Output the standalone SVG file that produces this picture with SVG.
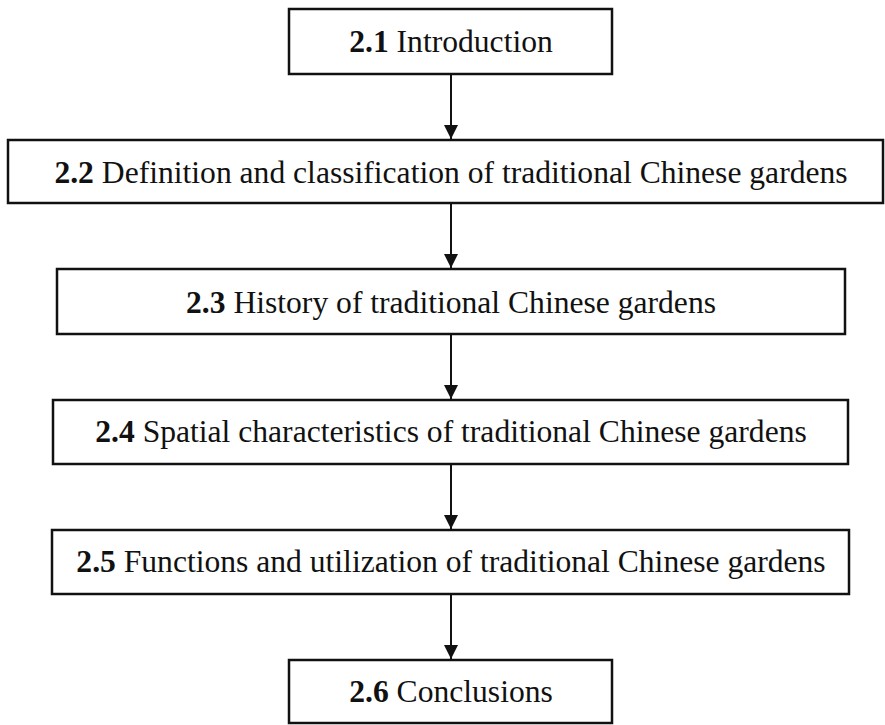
<svg xmlns="http://www.w3.org/2000/svg" width="885" height="725" viewBox="0 0 885 725">
<style>
.box{fill:#fff;stroke:#111;stroke-width:2.5}
.t{font-family:"Liberation Serif","Times New Roman",serif;font-size:31.6px;fill:#111;text-anchor:middle}
.b{font-weight:bold}
.c{stroke:#111;stroke-width:2;fill:none}
</style>
<defs>
<marker id="ah" viewBox="0 0 14 14" refX="14" refY="7" markerWidth="14" markerHeight="14" markerUnits="userSpaceOnUse" orient="auto">
<path d="M0,0 L14,7 L0,14 Z" fill="#111"/>
</marker>
</defs>
<rect width="885" height="725" fill="#fff"/>
<g id="connectors">
<line class="c" x1="451" y1="74" x2="451" y2="139" marker-end="url(#ah)"/>
<line class="c" x1="451" y1="203" x2="451" y2="268" marker-end="url(#ah)"/>
<line class="c" x1="451" y1="334" x2="451" y2="399" marker-end="url(#ah)"/>
<line class="c" x1="451" y1="464" x2="451" y2="529" marker-end="url(#ah)"/>
<line class="c" x1="451" y1="594" x2="451" y2="659" marker-end="url(#ah)"/>
</g>
<g id="n1">
<rect class="box" x="289" y="9" width="323" height="65"/>
<text class="t" x="451" y="52"><tspan class="b">2.1</tspan> Introduction</text>
</g>
<g id="n2">
<rect class="box" x="8" y="140" width="875" height="63"/>
<text class="t" x="451" y="183"><tspan class="b">2.2</tspan> Definition and classification of traditional Chinese gardens</text>
</g>
<g id="n3">
<rect class="box" x="57" y="269" width="788" height="65"/>
<text class="t" x="451" y="313"><tspan class="b">2.3</tspan> History of traditional Chinese gardens</text>
</g>
<g id="n4">
<rect class="box" x="53" y="400" width="795" height="64"/>
<text class="t" x="451" y="442"><tspan class="b">2.4</tspan> Spatial characteristics of traditional Chinese gardens</text>
</g>
<g id="n5">
<rect class="box" x="52" y="530" width="797" height="64"/>
<text class="t" x="451" y="572"><tspan class="b">2.5</tspan> Functions and utilization of traditional Chinese gardens</text>
</g>
<g id="n6">
<rect class="box" x="289" y="660" width="323" height="63"/>
<text class="t" x="451" y="702"><tspan class="b">2.6</tspan> Conclusions</text>
</g>
</svg>
